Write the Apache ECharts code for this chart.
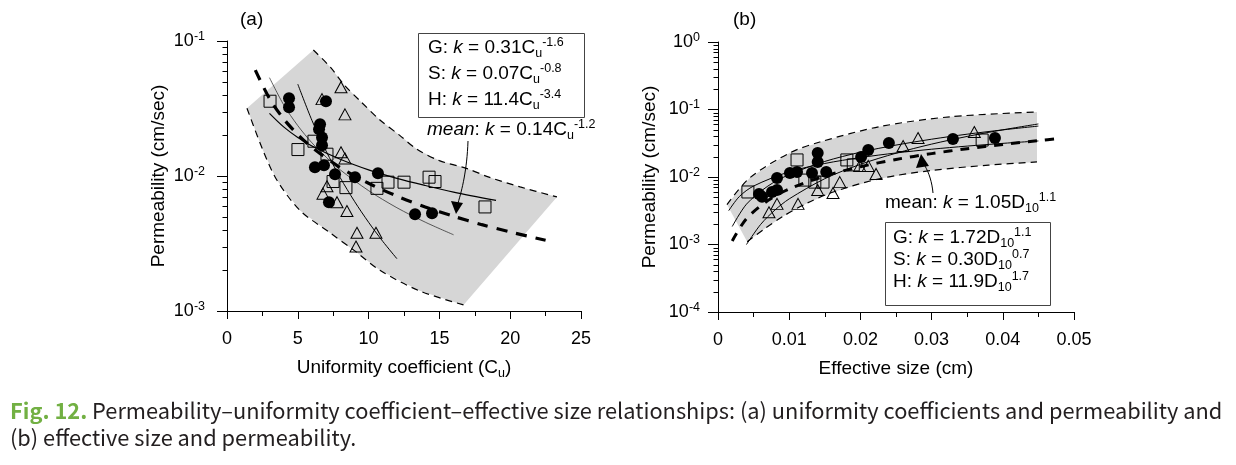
<!DOCTYPE html>
<html><head><meta charset="utf-8">
<script src="https://cdn.jsdelivr.net/npm/echarts@6/dist/echarts.min.js"></script>
<style>html,body{margin:0;padding:0;background:#fff}#c{width:1236px;height:465px}</style>
</head><body><div id="c"></div>
<script>
// ---------- axis ticks ----------
const xTicksA = [0, 5, 10, 15, 20, 25];
const yTicksA = [0.001, 0.01, 0.1];
const xTicksB = [0, 0.01, 0.02, 0.03, 0.04, 0.05];
const yTicksB = [0.0001, 0.001, 0.01, 0.1, 1];

// ---------- (a) uniformity coefficient vs permeability ----------
const A_circles = [[4.38,0.0377],[4.38,0.0323],[6.99,0.0358],[6.57,0.0242],[6.50,0.0222],[6.71,0.0193],[6.71,0.0169],
  [6.21,0.0116],[6.85,0.0120],[7.63,0.0103],[9.04,0.0098],[10.66,0.0105],[7.20,0.0064],[13.28,0.0052],[14.48,0.0053]];
const A_squares = [[3.04,0.0358],[5.01,0.0157],[6.14,0.0181],[7.06,0.0145],[7.49,0.0091],[8.40,0.0082],[10.59,0.0081],
  [11.37,0.0090],[12.5,0.0090],[14.27,0.0098],[14.69,0.0091],[18.22,0.0059]];
const A_triangles = [[8.05,0.0455],[6.71,0.0371],[8.33,0.0286],[8.05,0.0150],[8.33,0.0135],[7.06,0.0084],[6.78,0.0074],
  [7.77,0.0064],[8.47,0.0055],[9.18,0.0038],[10.52,0.0038],[9.11,0.0030]];
const A_bandUpper = [[6.1,0.0857],[7.3,0.064],[8.3,0.047],[9.4,0.036],[10.8,0.026],[12.2,0.020],[13.4,0.0158],
  [15.0,0.0130],[16.9,0.0114],[18.5,0.0098],[20.7,0.0083],[23.3,0.0070]];
const A_bandLower = [[1.41,0.0318],[2.54,0.0155],[3.53,0.0093],[5.16,0.00555],[7.27,0.0038],[9.0,0.0028],
  [10.8,0.0020],[13.6,0.00141],[16.7,0.00111]];
const A_mean = [[2,0.0609],[3,0.0375],[4,0.0265],[5,0.0203],[6,0.0163],[8,0.01154],[10,0.00883],[12,0.0071],
  [14,0.0059],[16,0.00503],[18,0.00436],[20,0.00385],[22.5,0.00334]];
const A_G = [[3,0.0535],[4,0.0337],[5,0.0236],[6,0.0176],[7,0.0138],[8,0.0111],[10,0.00779],[12,0.00582],[14,0.00455],[16,0.00367]];
const A_S = [[3,0.0291],[4,0.0231],[5,0.0193],[6,0.0167],[8,0.0133],[10,0.0111],[12,0.0096],[14,0.0085],[16,0.0076],[19,0.0066]];
const A_H = [[5,0.0479],[6,0.0258],[7,0.0153],[8,0.0097],[9,0.0065],[10,0.00454],[11,0.00328],[12,0.00244]];

// ---------- (b) effective size vs permeability ----------
const B_circles = [[0.00576,0.0056],[0.00618,0.0051],[0.00758,0.0060],[0.00829,0.0064],[0.00829,0.0097],[0.0101,0.0115],
  [0.0111,0.0119],[0.0132,0.0115],[0.0140,0.0167],[0.0140,0.0227],[0.0152,0.0119],[0.0201,0.0198],[0.0211,0.0251],
  [0.0240,0.0319],[0.0330,0.0366],[0.0389,0.0378]];
const B_squares = [[0.0042,0.0060],[0.0111,0.0179],[0.0122,0.0090],[0.0136,0.0084],[0.01475,0.0084],[0.0181,0.0179],
  [0.0190,0.0151],[0.0371,0.0353]];
const B_triangles = [[0.00716,0.0030],[0.00829,0.0040],[0.01124,0.0040],[0.0140,0.0064],[0.01615,0.0058],[0.0171,0.0084],
  [0.0199,0.0146],[0.0211,0.0146],[0.0222,0.0111],[0.0260,0.0288],[0.0281,0.0378],[0.0360,0.0464]];
const B_bandUpper = [[0.00126,0.0039],[0.0045,0.0098],[0.0101,0.0228],[0.0143,0.033],[0.0228,0.056],[0.0326,0.078],[0.0448,0.092]];
const B_bandLower = [[0.0041,0.0011],[0.0065,0.0017],[0.0091,0.0026],[0.0125,0.0041],[0.0162,0.0060],[0.0228,0.0095],
  [0.030,0.0125],[0.038,0.0150],[0.0448,0.0167]];
const B_mean = [[0.002,0.00113],[0.004,0.00242],[0.007,0.00448],[0.01,0.00663],[0.015,0.01035],[0.02,0.0142],[0.025,0.0182],
  [0.03,0.0222],[0.035,0.0263],[0.04,0.0304],[0.045,0.0346],[0.048,0.0372]];
const B_G = [[0.002,0.00185],[0.004,0.00396],[0.007,0.00733],[0.01,0.01085],[0.015,0.0170],[0.02,0.0233],[0.025,0.0297],
  [0.03,0.0363],[0.035,0.0431],[0.04,0.0499],[0.045,0.0568]];
const B_S = [[0.0015,0.00317],[0.003,0.00514],[0.005,0.00735],[0.01,0.01194],[0.015,0.01586],[0.02,0.0194],[0.025,0.0227],
  [0.03,0.0258],[0.035,0.0287],[0.04,0.0315],[0.045,0.0342]];
const B_H = [[0.004,0.00100],[0.006,0.00199],[0.008,0.00324],[0.01,0.00474],[0.015,0.00944],[0.02,0.0154],[0.025,0.0225],
  [0.03,0.0307],[0.035,0.0399],[0.04,0.0500],[0.045,0.0611]];

// ---------- styling ----------
const FONT = '"Liberation Sans", Arial, Helvetica, sans-serif';
const BLACK = '#000';
const SHADE = '#d6d6d6';

function supLabel(v) {
  const e = Math.round(Math.log10(v));
  return '{a|10}{b|' + e + '}';
}
const yLabelRich = {
  a: { fontSize: 18, fontFamily: FONT, color: BLACK, lineHeight: 22 },
  b: { fontSize: 12.5, fontFamily: FONT, color: BLACK, verticalAlign: 'top', lineHeight: 14 }
};
const nameRich = {
  n: { fontSize: 19, fontFamily: FONT, color: BLACK, lineHeight: 24 },
  s: { fontSize: 12.5, fontFamily: FONT, color: BLACK, verticalAlign: 'bottom', lineHeight: 12 }
};

function xAxis(idx, ticks, name, fmt) {
  return {
    type: 'value', gridIndex: idx, min: ticks[0], max: ticks[ticks.length - 1], interval: ticks[1] - ticks[0],
    axisLine: { show: true, onZero: false, lineStyle: { color: BLACK, width: 1 } },
    axisTick: { show: true, length: 8, lineStyle: { color: BLACK, width: 1 } },
    minorTick: { show: true, splitNumber: 2, length: 5, lineStyle: { color: BLACK, width: 1 } },
    axisLabel: { fontSize: 18, fontFamily: FONT, color: BLACK, margin: 19, formatter: fmt },
    splitLine: { show: false }, minorSplitLine: { show: false },
    name: name, nameLocation: 'middle', nameGap: 45,
    nameTextStyle: { rich: nameRich }
  };
}
function yAxis(idx, ticks, margin) {
  return {
    type: 'log', logBase: 10, gridIndex: idx, min: ticks[0], max: ticks[ticks.length - 1], splitNumber: ticks.length - 1,
    axisLine: { show: true, onZero: false, lineStyle: { color: BLACK, width: 1 } },
    axisTick: { show: true, length: 10, lineStyle: { color: BLACK, width: 1 } },
    axisLabel: { margin: margin, formatter: supLabel, rich: yLabelRich },
    splitLine: { show: false },
    name: 'Permeability (cm/sec)', nameLocation: 'middle', nameGap: 59,
    nameTextStyle: { fontSize: 19, fontFamily: FONT, color: BLACK }
  };
}

function bandSeries(upper, lower, xi) {
  return {
    type: 'custom', xAxisIndex: xi, yAxisIndex: xi, silent: true, z: 1, clip: false,
    data: [upper[0]],
    renderItem: function (params, api) {
      const pts = upper.concat(lower.slice().reverse()).map(p => api.coord(p));
      return { type: 'polygon', shape: { points: pts }, style: { fill: SHADE, stroke: null } };
    }
  };
}
function minorTickSeries(xi, xmin, ticks) {
  const vals = [];
  for (let i = 0; i < ticks.length - 1; i++) for (let m = 2; m <= 9; m++) vals.push([xmin, m * ticks[i]]);
  return {
    type: 'custom', xAxisIndex: xi, yAxisIndex: xi, silent: true, clip: false, z: 5, data: vals,
    renderItem: function (params, api) {
      const p = api.coord([api.value(0), api.value(1)]);
      const y = Math.round(p[1]) + 0.5, x = Math.round(p[0]) + 0.5;
      return { type: 'line', shape: { x1: x, y1: y, x2: x - 5, y2: y }, style: { stroke: BLACK, lineWidth: 1 } };
    }
  };
}
function curve(data, xi, width, dash, color) {
  return {
    type: 'line', xAxisIndex: xi, yAxisIndex: xi, data: data, smooth: 0.3, symbol: 'none', silent: true, z: 3,
    lineStyle: { color: color || BLACK, width: width, type: dash || 'solid', opacity: 1 }
  };
}
function pts(data, xi, symbol, size, filled) {
  return {
    type: 'scatter', xAxisIndex: xi, yAxisIndex: xi, data: data, symbol: symbol, symbolSize: size, silent: true,
    z: filled ? 7 : 6,
    itemStyle: filled ? { color: BLACK, opacity: 1 }
                      : { color: 'rgba(0,0,0,0)', borderColor: BLACK, borderWidth: 1, opacity: 1 }
  };
}

const txtRich = {
  t: { fontSize: 19, fontFamily: FONT, fill: BLACK, lineHeight: 24 },
  i: { fontSize: 19, fontFamily: FONT, fill: BLACK, fontStyle: 'italic', lineHeight: 24 },
  sub: { fontSize: 12.5, fontFamily: FONT, fill: BLACK, verticalAlign: 'bottom', lineHeight: 12 },
  sup: { fontSize: 12.5, fontFamily: FONT, fill: BLACK, verticalAlign: 'top', lineHeight: 16 }
};
function label(x, y, text) {
  return { type: 'text', x: x, y: y, silent: true, z: 20,
    style: { text: text, rich: txtRich, fill: BLACK, font: '19px ' + FONT, verticalAlign: 'middle', align: 'left' } };
}
const CAPFONT = '"Noto Sans CJK KR", "Noto Sans", sans-serif';
const capRich = {
  g: { fontSize: 21.8, fontFamily: CAPFONT, fill: '#72b043', fontWeight: 'bold' },
  t: { fontSize: 21.8, fontFamily: CAPFONT, fill: '#231f20' }
};

const chart = echarts.init(document.getElementById('c'), null, { renderer: 'canvas', width: 1236, height: 465 });
chart.setOption({
  animation: false,
  backgroundColor: '#fff',
  grid: [
    { left: 227, top: 41, width: 354, height: 270 },
    { left: 718, top: 42, width: 356, height: 270 }
  ],
  xAxis: [
    xAxis(0, xTicksA, '{n|Uniformity coefficient (C}{s|u}{n|)}', v => String(v)),
    xAxis(1, xTicksB, '{n|Effective size (cm)}', v => (v === 0 ? '0' : v.toFixed(2)))
  ],
  yAxis: [yAxis(0, yTicksA, 22), yAxis(1, yTicksB, 18)],
  series: [
    bandSeries(A_bandUpper, A_bandLower, 0),
    curve(A_bandUpper, 0, 1.2, [7, 5]),
    curve(A_bandLower, 0, 1.2, [7, 5]),
    curve(A_G, 0, 0.8, 'solid', '#333'),
    curve(A_S, 0, 1.2),
    curve(A_H, 0, 1),
    curve(A_mean, 0, 3.2, [11, 9]),
    pts(A_squares, 0, 'rect', 12, false),
    pts(A_triangles, 0, 'triangle', [12, 11], false),
    pts(A_circles, 0, 'circle', 12, true),
    minorTickSeries(0, xTicksA[0], yTicksA),

    bandSeries(B_bandUpper, B_bandLower, 1),
    curve(B_bandUpper, 1, 1.2, [7, 5]),
    curve(B_bandLower, 1, 1.2, [7, 5]),
    curve(B_G, 1, 1),
    curve(B_S, 1, 1),
    curve(B_H, 1, 1),
    curve(B_mean, 1, 3, [9, 8]),
    pts(B_squares, 1, 'rect', 12, false),
    pts(B_triangles, 1, 'triangle', [12, 11], false),
    pts(B_circles, 1, 'circle', 12, true),
    minorTickSeries(1, xTicksB[0], yTicksB)
  ],
  graphic: { elements: [
    label(240, 20, '{t|(a)}'),
    label(733, 20, '{t|(b)}'),
    { type: 'rect', shape: { x: 418.5, y: 33.5, width: 166, height: 84 }, style: { fill: '#fff', stroke: '#444', lineWidth: 1 }, z: 19, silent: true },
    label(428, 48, '{t|G: }{i|k}{t| = 0.31C}{sub|u}{sup|-1.6}'),
    label(428, 74, '{t|S: }{i|k}{t| = 0.07C}{sub|u}{sup|-0.8}'),
    label(428, 100, '{t|H: }{i|k}{t| = 11.4C}{sub|u}{sup|-3.4}'),
    label(427, 130, '{i|mean}{t|: }{i|k}{t| = 0.14C}{sub|u}{sup|-1.2}'),
    { type: 'bezierCurve', shape: { x1: 468, y1: 141, cpx1: 467, cpy1: 170, cpx2: 462, cpy2: 190, x2: 458, y2: 203 },
      style: { stroke: BLACK, lineWidth: 1, fill: null }, z: 20, silent: true },
    { type: 'polygon', shape: { points: [[456, 214], [451, 201], [463, 203]] }, style: { fill: BLACK }, z: 20, silent: true },

    label(885, 203, '{t|mean: }{i|k}{t| = 1.05D}{sub|10}{sup|1.1}'),
    { type: 'rect', shape: { x: 885.5, y: 222.5, width: 165, height: 83 }, style: { fill: '#fff', stroke: '#444', lineWidth: 1 }, z: 19, silent: true },
    label(893, 238, '{t|G: }{i|k}{t| = 1.72D}{sub|10}{sup|1.1}'),
    label(893, 260, '{t|S: }{i|k}{t| = 0.30D}{sub|10}{sup|0.7}'),
    label(893, 282, '{t|H: }{i|k}{t| = 11.9D}{sub|10}{sup|1.7}'),
    { type: 'bezierCurve', shape: { x1: 933, y1: 193, cpx1: 932, cpy1: 182, cpx2: 929, cpy2: 173, x2: 925, y2: 166 },
      style: { stroke: BLACK, lineWidth: 1, fill: null }, z: 20, silent: true },
    { type: 'polygon', shape: { points: [[921, 154], [916, 168], [929, 166]] }, style: { fill: BLACK }, z: 20, silent: true },

    { type: 'text', x: 10, y: 411, silent: true, style: { text: '{g|Fig. 12.}{t| Permeability–uniformity coefficient–effective size relationships: (a) uniformity coefficients and permeability and}', rich: capRich, verticalAlign: 'middle' } },
    { type: 'text', x: 10, y: 438, silent: true, style: { text: '{t|(b) effective size and permeability.}', rich: capRich, verticalAlign: 'middle' } }
  ] }
});
</script></body></html>
